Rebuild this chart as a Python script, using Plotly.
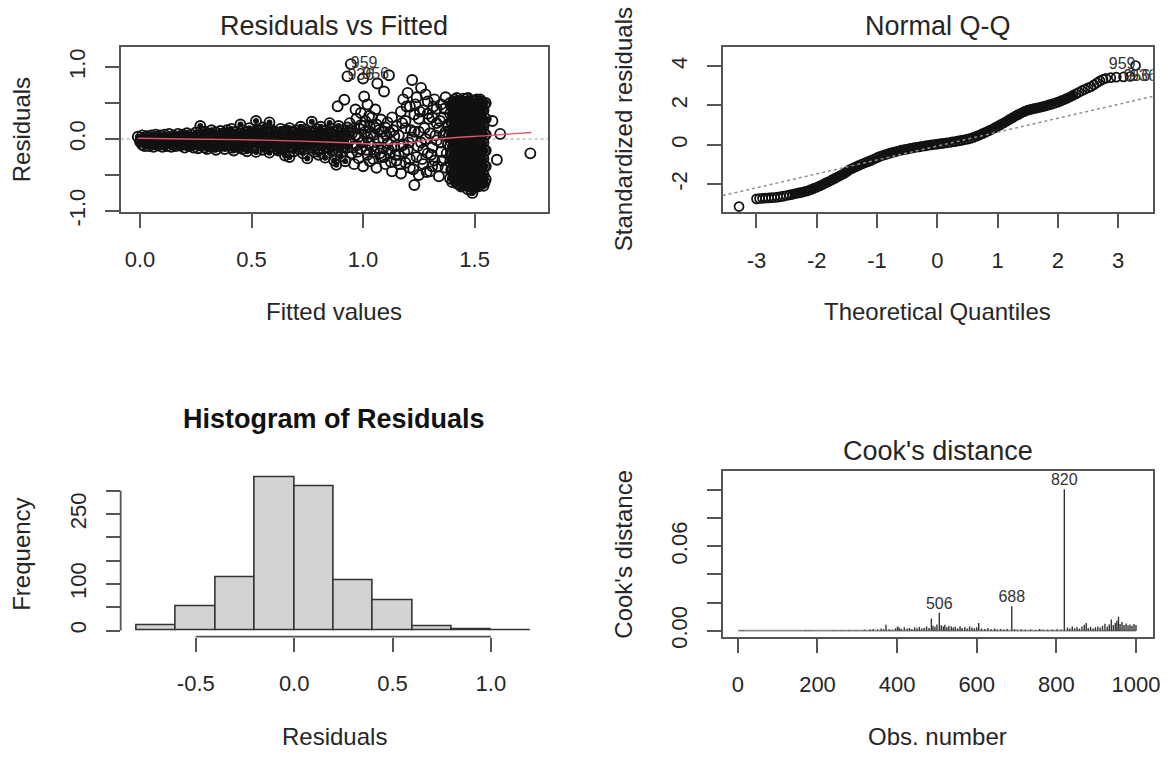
import plotly.graph_objects as go

FONT = "Liberation Sans, Arial, sans-serif"
INK = "#262626"
AXC = "#555555"
W, H = 1176, 768

# ================= Residuals vs Fitted =================
# low fitted band (0.00 - 0.25)
fit_a = [-0.01, 0.00, 0.01, 0.01, 0.02, 0.02, 0.03, 0.03, 0.04, 0.04,
         0.05, 0.05, 0.06, 0.06, 0.07, 0.07, 0.08, 0.08, 0.09, 0.09,
         0.10, 0.10, 0.11, 0.11, 0.12, 0.12, 0.13, 0.13, 0.14, 0.14,
         0.15, 0.15, 0.16, 0.16, 0.17, 0.17, 0.18, 0.18, 0.19, 0.19,
         0.20, 0.20, 0.21, 0.21, 0.22, 0.22, 0.23, 0.23, 0.24, 0.24,
         0.005, 0.015, 0.025, 0.035, 0.045, 0.055, 0.065, 0.075, 0.085, 0.095,
         0.105, 0.115, 0.125, 0.135, 0.145, 0.155, 0.165, 0.175, 0.185, 0.195,
         0.205, 0.215, 0.225, 0.235, 0.245]
res_a = [0.03, -0.04, -0.08, 0.05, 0.00, -0.10, 0.04, -0.06, -0.02, -0.10,
         0.05, -0.07, 0.01, -0.11, 0.06, -0.04, -0.09, 0.02, 0.05, -0.06,
         -0.01, -0.11, 0.06, -0.08, 0.02, -0.10, 0.07, -0.05, -0.02, -0.11,
         0.05, -0.08, 0.01, -0.10, 0.07, -0.04, -0.09, 0.03, 0.06, -0.07,
         -0.01, -0.12, 0.08, -0.05, 0.02, -0.10, 0.06, -0.07, -0.03, -0.12,
         -0.03, 0.01, -0.05, 0.02, -0.06, 0.00, -0.04, 0.03, -0.07, 0.01,
         -0.05, 0.02, -0.06, 0.00, -0.04, 0.03, -0.06, -0.01, 0.00, -0.03,
         0.04, -0.08, -0.02, 0.01, -0.06]
# 0.25 - 0.50
fit_b = [0.25, 0.25, 0.26, 0.26, 0.27, 0.27, 0.28, 0.28, 0.29, 0.29,
         0.30, 0.30, 0.31, 0.31, 0.32, 0.32, 0.33, 0.33, 0.34, 0.34,
         0.35, 0.35, 0.36, 0.36, 0.37, 0.37, 0.38, 0.38, 0.39, 0.39,
         0.40, 0.40, 0.41, 0.41, 0.42, 0.42, 0.43, 0.43, 0.44, 0.44,
         0.45, 0.45, 0.46, 0.46, 0.47, 0.47, 0.48, 0.48, 0.49, 0.49,
         0.255, 0.265, 0.275, 0.285, 0.295, 0.305, 0.315, 0.325, 0.335, 0.345,
         0.355, 0.365, 0.375, 0.385, 0.395, 0.405, 0.415, 0.425, 0.435, 0.445,
         0.455, 0.465, 0.475, 0.485, 0.495]
res_b = [0.09, -0.06, -0.13, 0.02, 0.18, -0.09, 0.06, -0.03, -0.12, 0.10,
         0.01, -0.14, 0.07, -0.07, -0.02, 0.12, -0.11, 0.04, 0.09, -0.15,
         -0.05, 0.02, 0.11, -0.10, -0.01, 0.07, -0.14, 0.03, 0.12, -0.07,
         -0.03, 0.08, -0.12, 0.14, 0.01, -0.16, 0.10, -0.06, -0.10, 0.04,
         0.20, -0.02, 0.12, -0.14, 0.06, -0.08, -0.17, 0.01, 0.15, -0.04,
         -0.01, 0.05, -0.04, 0.09, -0.07, 0.04, -0.10, 0.06, -0.03, 0.00,
         -0.09, 0.05, -0.06, 0.08, 0.02, -0.08, 0.05, -0.03, 0.01, -0.12,
         0.07, -0.04, 0.10, -0.10, 0.04]
# 0.50 - 0.75
fit_c = [0.50, 0.50, 0.51, 0.52, 0.52, 0.53, 0.53, 0.54, 0.55, 0.55,
         0.56, 0.57, 0.57, 0.58, 0.58, 0.59, 0.60, 0.60, 0.61, 0.61,
         0.62, 0.63, 0.63, 0.64, 0.64, 0.65, 0.65, 0.66, 0.66, 0.67,
         0.67, 0.68, 0.68, 0.69, 0.70, 0.70, 0.71, 0.71, 0.72, 0.72,
         0.73, 0.73, 0.74, 0.74, 0.75, 0.75,
         0.505, 0.515, 0.525, 0.535, 0.545, 0.555, 0.565, 0.575, 0.585, 0.595,
         0.605, 0.615, 0.625, 0.635, 0.645, 0.655, 0.665, 0.675, 0.685, 0.695,
         0.705, 0.715, 0.725, 0.735, 0.745]
res_c = [0.08, -0.12, -0.01, 0.25, -0.18, 0.11, -0.06, 0.03, -0.15, 0.16,
         -0.09, 0.07, -0.02, 0.23, -0.19, 0.12, -0.11, 0.02, 0.09, -0.05,
         -0.16, 0.14, -0.01, 0.06, -0.13, -0.23, 0.10, -0.07, 0.02, -0.25,
         0.15, -0.10, 0.05, -0.17, 0.12, -0.03, 0.08, -0.14, 0.00, 0.17,
         -0.20, 0.06, -0.08, 0.13, -0.27, 0.03,
         0.03, -0.08, 0.13, -0.03, -0.10, 0.06, 0.14, -0.12, 0.01, -0.05,
         0.10, -0.14, 0.05, -0.07, 0.02, 0.12, -0.12, 0.00, 0.09, -0.06,
         0.05, -0.02, -0.11, 0.10, -0.04]
# 0.75 - 0.94
fit_d = [0.76, 0.76, 0.77, 0.77, 0.78, 0.78, 0.79, 0.79, 0.80, 0.80,
         0.81, 0.81, 0.82, 0.82, 0.83, 0.83, 0.84, 0.84, 0.85, 0.85,
         0.86, 0.86, 0.87, 0.87, 0.88, 0.88, 0.89, 0.89, 0.90, 0.90,
         0.91, 0.91, 0.92, 0.92, 0.93, 0.93,
         0.755, 0.765, 0.775, 0.785, 0.795, 0.805, 0.815, 0.825, 0.835, 0.845,
         0.855, 0.865, 0.875, 0.885, 0.895, 0.905, 0.915, 0.925, 0.935]
res_d = [0.10, -0.12, 0.24, -0.05, 0.04, -0.18, 0.14, -0.09, -0.22, 0.07,
         0.00, 0.17, -0.14, 0.11, -0.04, -0.26, 0.08, -0.11, 0.22, -0.19,
         0.03, 0.14, -0.08, -0.30, 0.10, -0.36, -0.15, 0.18, 0.01, -0.24,
         0.12, -0.06, -0.31, 0.05, 0.16, -0.12,
         -0.02, 0.05, -0.10, 0.09, 0.00, -0.13, 0.06, -0.07, 0.12, 0.02,
         -0.08, -0.15, 0.05, -0.03, 0.08, -0.12, 0.02, -0.06, 0.09]
# 0.94 - 1.15
fit_e = [0.94, 0.94, 0.95, 0.95, 0.96, 0.96, 0.97, 0.97, 0.98, 0.98,
         0.99, 0.99, 1.00, 1.00, 1.01, 1.01, 1.02, 1.02, 1.03, 1.03,
         1.04, 1.04, 1.05, 1.05, 1.06, 1.06, 1.07, 1.07, 1.08, 1.08,
         1.09, 1.09, 1.10, 1.10, 1.11, 1.11, 1.12, 1.12, 1.13, 1.13,
         1.14, 1.14, 1.15, 1.15,
         0.945, 0.955, 0.965, 0.975, 0.985, 0.995, 1.005, 1.015, 1.025, 1.035,
         1.045, 1.055, 1.065, 1.075, 1.085, 1.095, 1.105, 1.115, 1.125, 1.135,
         1.145]
res_e = [-0.02, 0.22, -0.20, 0.08, -0.35, 0.15, -0.09, 0.28, 0.03, -0.27,
         0.19, -0.14, -0.04, -0.38, 0.10, 0.25, -0.22, 0.02, 0.17, -0.31,
         -0.10, 0.30, 0.06, -0.18, -0.40, 0.20, -0.03, 0.12, -0.25, 0.27,
         0.01, -0.13, 0.16, -0.35, -0.06, 0.23, -0.20, 0.09, -0.45, 0.30,
         -0.11, 0.04, 0.18, -0.30,
         0.12, -0.12, 0.05, -0.18, 0.14, -0.05, 0.18, -0.15, -0.06, 0.08,
         -0.28, 0.15, -0.12, -0.20, 0.10, -0.25, 0.05, -0.15, -0.32, 0.12,
         -0.22]
# isolated high points above the cloud around 0.9 - 1.12
fit_out = [0.886, 0.916, 0.945, 1.116, 0.93, 1.00, 1.064, 1.094, 1.005, 0.966,
           1.055, 1.027, 0.99, 1.02]
res_out = [0.455, 0.545, 1.04, 0.886, 0.87, 0.84, 0.77, 0.66, 0.59, 0.41,
           0.41, 0.32, 0.36, 0.48]
# 1.15 - 1.39 (wide spread)
fit_f = [1.16, 1.16, 1.17, 1.17, 1.18, 1.18, 1.19, 1.19, 1.20, 1.20,
         1.21, 1.21, 1.22, 1.22, 1.23, 1.23, 1.24, 1.24, 1.25, 1.25,
         1.26, 1.26, 1.27, 1.27, 1.28, 1.28, 1.29, 1.29, 1.30, 1.30,
         1.31, 1.31, 1.32, 1.32, 1.33, 1.33, 1.34, 1.34, 1.35, 1.35,
         1.36, 1.36, 1.37, 1.37, 1.38, 1.38,
         1.17, 1.19, 1.21, 1.23, 1.25, 1.27, 1.29, 1.31, 1.33, 1.35, 1.37,
         1.165, 1.175, 1.185, 1.195, 1.205, 1.215, 1.225, 1.235, 1.245, 1.255,
         1.265, 1.275, 1.285, 1.295, 1.305, 1.315, 1.325, 1.335, 1.345, 1.355,
         1.365, 1.375, 1.385]
res_f = [0.05, -0.22, 0.38, -0.48, 0.55, -0.08, 0.15, -0.33, 0.64, -0.15,
         0.45, -0.40, 0.82, 0.02, -0.64, 0.34, -0.25, 0.58, 0.10, -0.50,
         0.71, -0.05, 0.40, -0.35, 0.62, 0.00, -0.20, 0.52, 0.08, -0.45,
         0.30, -0.12, 0.55, -0.30, -0.02, 0.42, 0.15, -0.52, 0.48, -0.18,
         0.05, 0.30, -0.40, 0.58, -0.08, 0.20,
         -0.10, 0.25, -0.28, 0.10, 0.28, -0.15, 0.35, -0.38, 0.22, -0.05, 0.10,
         -0.35, 0.22, -0.18, 0.45, -0.05, 0.12, -0.42, 0.48, -0.10, 0.38,
         -0.28, 0.15, -0.46, 0.28, -0.22, 0.45, 0.05, -0.38, 0.25, -0.30,
         0.42, -0.20, 0.05]
# dense block 1.39 - 1.55
fit_g = [1.39] * 6 + [1.40] * 6 + [1.41] * 6 + [1.42] * 7 + [1.43] * 6 + [1.44] * 6 + [1.45] * 6 + [1.46] * 6 \
      + [1.47] * 7 + [1.48] * 6 + [1.49] * 7 + [1.50] * 6 + [1.51] * 6 + [1.52] * 6 + [1.53] * 6 + [1.54] * 6 \
      + [1.55] * 6 \
      + [1.395] * 5 + [1.405] * 6 + [1.415] * 6 + [1.425] * 6 + [1.435] * 6 + [1.445] * 6 + [1.455] * 6 \
      + [1.465] * 6 + [1.475] * 6 + [1.485] * 6 + [1.495] * 6 + [1.505] * 6 + [1.515] * 6 + [1.525] * 6 \
      + [1.535] * 6 + [1.545] * 6
res_g = [0.35, 0.12, -0.10, -0.32, -0.55, 0.50,
         0.45, 0.22, 0.02, -0.20, -0.42, -0.60,
         0.55, 0.30, 0.08, -0.14, -0.36, -0.50,
         0.40, 0.18, -0.04, -0.26, -0.48, -0.62, 0.57,
         0.52, 0.28, 0.06, -0.16, -0.38, -0.58,
         0.44, 0.20, -0.02, -0.24, -0.46, -0.66,
         0.56, 0.34, 0.12, -0.10, -0.32, -0.54,
         0.48, 0.25, 0.03, -0.19, -0.41, -0.63,
         0.57, 0.38, 0.16, -0.06, -0.28, -0.50, -0.70,
         0.46, 0.22, 0.00, -0.22, -0.44, -0.62,
         0.53, 0.31, 0.09, -0.13, -0.35, -0.57, -0.75,
         0.42, 0.19, -0.03, -0.25, -0.47, -0.66,
         0.55, 0.33, 0.11, -0.11, -0.33, -0.55,
         0.47, 0.24, 0.02, -0.20, -0.42, -0.64,
         0.52, 0.30, 0.08, -0.14, -0.36, -0.58,
         0.40, 0.17, -0.05, -0.27, -0.49, -0.65,
         0.50, 0.28, 0.06, -0.16, -0.38, -0.56,
         0.24, 0.01, -0.21, -0.43, 0.46,
         0.34, 0.12, -0.09, -0.31, -0.52, 0.52,
         0.42, 0.19, -0.03, -0.25, -0.46, -0.58,
         0.29, 0.07, -0.15, -0.37, -0.55, 0.50,
         0.40, 0.17, -0.05, -0.27, -0.49, -0.64,
         0.31, 0.09, -0.13, -0.35, -0.57, 0.52,
         0.45, 0.23, 0.01, -0.21, -0.43, -0.64,
         0.36, 0.14, -0.08, -0.30, -0.52, 0.56,
         0.49, 0.27, 0.05, -0.17, -0.39, -0.61,
         0.35, 0.11, -0.11, -0.33, -0.53, -0.71,
         0.44, 0.20, -0.02, -0.24, -0.46, -0.68,
         0.30, 0.08, -0.14, -0.36, -0.58, 0.53,
         0.44, 0.22, 0.00, -0.22, -0.44, -0.66,
         0.36, 0.13, -0.09, -0.31, -0.53, 0.55,
         0.41, 0.19, -0.03, -0.25, -0.47, -0.62,
         0.29, 0.06, -0.16, -0.38, -0.60, 0.48]
# beyond the block
fit_h = [1.58, 1.60, 1.615, 1.75]
res_h = [0.25, -0.29, 0.07, -0.20]

lowess_fitted = [-0.01, 0.20, 0.45, 0.72, 0.90, 1.05, 1.14, 1.22, 1.30, 1.42, 1.556, 1.66, 1.755]
lowess_resid = [0.01, 0.00, -0.01, -0.03, -0.05, -0.07, -0.07, -0.05, -0.01, 0.02, 0.046, 0.07, 0.09]
rf_id_fitted = [0.945, 1.116, 0.93]
rf_id_resid = [1.04, 0.886, 0.87]
rf_id_names = ["959", "956", "936"]
rf_id_pos = ["middle right", "middle left", "middle right"]

# ================= Normal Q-Q =================
qq_theoretical = [
    -3.29, -3.00, -2.95, -2.90, -2.85, -2.80, -2.75, -2.70, -2.65, -2.60,
    -2.55, -2.50, -2.45, -2.40, -2.35, -2.30, -2.25, -2.20, -2.15, -2.10,
    -2.05, -2.00, -1.95, -1.90, -1.85, -1.80, -1.75, -1.70, -1.65, -1.60,
    -1.55, -1.50, -1.45, -1.40, -1.35, -1.30, -1.25, -1.20, -1.15, -1.10,
    -1.05, -1.00, -0.95, -0.90, -0.85, -0.80, -0.75, -0.70, -0.65, -0.60,
    -0.55, -0.50, -0.45, -0.40, -0.35, -0.30, -0.25, -0.20, -0.15, -0.10,
    -0.05, 0.00, 0.05, 0.10, 0.15, 0.20, 0.25, 0.30, 0.35, 0.40,
    0.45, 0.50, 0.55, 0.60, 0.65, 0.70, 0.75, 0.80, 0.85, 0.90,
    0.95, 1.00, 1.05, 1.10, 1.15, 1.20, 1.25, 1.30, 1.35, 1.40,
    1.45, 1.50, 1.55, 1.60, 1.65, 1.70, 1.75, 1.80, 1.85, 1.90,
    1.95, 2.00, 2.05, 2.10, 2.15, 2.20, 2.25, 2.30, 2.35, 2.40,
    2.45, 2.50, 2.55, 2.60, 2.65, 2.70, 2.75, 2.80, 2.88, 2.97,
    3.09, 3.20, 3.29,
]
qq_standardized = [
    -3.13, -2.74, -2.72, -2.71, -2.70, -2.69, -2.68, -2.67, -2.65, -2.63,
    -2.60, -2.57, -2.54, -2.51, -2.47, -2.44, -2.41, -2.37, -2.33, -2.27,
    -2.21, -2.15, -2.08, -2.01, -1.93, -1.86, -1.78, -1.70, -1.62, -1.54,
    -1.46, -1.36, -1.25, -1.18, -1.11, -1.04, -0.97, -0.91, -0.85, -0.79,
    -0.72, -0.65, -0.58, -0.53, -0.48, -0.43, -0.39, -0.35, -0.31, -0.27,
    -0.24, -0.21, -0.18, -0.15, -0.12, -0.10, -0.07, -0.05, -0.02, 0.00,
    0.02, 0.04, 0.06, 0.08, 0.10, 0.12, 0.15, 0.17, 0.20, 0.23,
    0.26, 0.29, 0.33, 0.38, 0.44, 0.50, 0.57, 0.64, 0.71, 0.78,
    0.86, 0.94, 1.03, 1.11, 1.20, 1.29, 1.38, 1.47, 1.55, 1.63,
    1.70, 1.76, 1.80, 1.84, 1.87, 1.90, 1.94, 1.98, 2.03, 2.07,
    2.12, 2.17, 2.23, 2.29, 2.36, 2.43, 2.51, 2.59, 2.67, 2.75,
    2.82, 2.89, 2.95, 3.05, 3.15, 3.25, 3.33, 3.38, 3.41, 3.44,
    3.45, 3.47, 4.03,
]
qqline_intercept = -0.06
qqline_slope = 0.705
qq_id_theoretical = [3.29, 3.09, 3.20]
qq_id_values = [4.03, 3.45, 3.47]
qq_id_names = ["959", "956", "936"]
qq_id_pos = ["middle left", "middle right", "middle right"]

# ================= Histogram of Residuals =================
hist_breaks = [-0.8, -0.6, -0.4, -0.2, 0.0, 0.2, 0.4, 0.6, 0.8, 1.0, 1.2]
hist_counts = [12, 51, 115, 330, 310, 107, 64, 8, 3, 0]

# ================= Cook's distance =================
n_obs = 1000
cook_obs = [
    8, 15, 170, 182, 240, 262, 280, 296, 318, 332,
    340, 351, 360, 366, 372, 380, 388, 396, 401, 405,
    410, 418, 425, 431, 437, 444, 450, 456, 462, 468,
    474, 480, 486, 490, 495, 500, 506, 511, 516, 520,
    525, 530, 536, 541, 546, 552, 558, 563, 570, 576,
    582, 588, 594, 600, 605, 612, 620, 628, 636, 645,
    652, 660, 668, 676, 688, 695, 702, 712, 722, 735,
    748, 758, 766, 778, 790, 802, 812, 820, 828, 834,
    840, 846, 852, 858, 864, 870, 875, 880, 886, 892,
    898, 904, 910, 916, 922, 928, 933, 938, 943, 948,
    952, 956, 960, 965, 970, 975, 980, 985, 990, 995,
    1000,
]
cook_values = [
    0.0004, 0.0003, 0.0003, 0.0004, 0.0003, 0.0004, 0.0005, 0.0004, 0.0006, 0.0008,
    0.0012, 0.0009, 0.0015, 0.0011, 0.0042, 0.0010, 0.0007, 0.0018, 0.0030, 0.0022,
    0.0014, 0.0025, 0.0016, 0.0020, 0.0012, 0.0024, 0.0018, 0.0027, 0.0015, 0.0021,
    0.0030, 0.0019, 0.0086, 0.0035, 0.0028, 0.0045, 0.0128, 0.0038, 0.0030, 0.0042,
    0.0025, 0.0035, 0.0030, 0.0022, 0.0028, 0.0018, 0.0032, 0.0020, 0.0026, 0.0016,
    0.0030, 0.0022, 0.0018, 0.0025, 0.0055, 0.0015, 0.0012, 0.0020, 0.0010, 0.0016,
    0.0009, 0.0013, 0.0008, 0.0012, 0.0174, 0.0010, 0.0007, 0.0011, 0.0006, 0.0009,
    0.0005, 0.0012, 0.0007, 0.0006, 0.0008, 0.0010, 0.0007, 0.1005, 0.0022, 0.0015,
    0.0030, 0.0018, 0.0025, 0.0014, 0.0030, 0.0042, 0.0055, 0.0020, 0.0028, 0.0016,
    0.0024, 0.0030, 0.0022, 0.0036, 0.0050, 0.0030, 0.0045, 0.0080, 0.0040, 0.0055,
    0.0070, 0.0100, 0.0048, 0.0062, 0.0040, 0.0052, 0.0038, 0.0045, 0.0035, 0.0048,
    0.0040,
]
cook_id = [506, 688, 820]

# ================= layout helpers =================
def dx(l, r):
    return [l / W, r / W]

def dy(t, b):
    return [1 - b / H, 1 - t / H]

TICKFONT = dict(family=FONT, size=22, color=INK)

def axis(domain, rng, vals, text, anchor, boxed=True, vertical=False):
    d = dict(domain=domain, range=rng, tickvals=vals, ticktext=text, anchor=anchor,
             showgrid=False, zeroline=False, ticks="outside", ticklen=14, tickwidth=1.5,
             tickcolor=AXC, showline=boxed, mirror=boxed, linecolor=AXC, linewidth=1.8,
             tickfont=TICKFONT, fixedrange=True)
    if vertical:
        d["tickangle"] = -90
        d["ticklabelstandoff"] = 11
    else:
        d["ticklabelstandoff"] = 13
    return d

P1 = (121.5, 551.7, 48.0, 216.0)
P2 = (727.7, 1160.6, 47.7, 216.7)
P3 = (121.5, 551.7, 480.7, 649.3)
P4 = (727.7, 1160.6, 480.7, 649.3)

fig = go.Figure()

fitted_values = fit_a + fit_b + fit_c + fit_d + fit_e + fit_out + fit_f + fit_g + fit_h
residual_values = res_a + res_b + res_c + res_d + res_e + res_out + res_f + res_g + res_h
# where the points pile up so much that the cloud reads as solid black
solid_fitted = fit_a + fit_b + fit_c + fit_d + fit_g
solid_resid = res_a + res_b + res_c + res_d + res_g

INKPT = "#111111"

# Panel 1
fig.add_trace(go.Scatter(x=solid_fitted, y=solid_resid, mode="markers",
                         marker=dict(symbol="circle", size=6, color=INKPT, line=dict(width=0)),
                         xaxis="x", yaxis="y", hoverinfo="skip"))
fig.add_trace(go.Scatter(x=fitted_values, y=residual_values, mode="markers",
                         marker=dict(symbol="circle-open", size=10, color=INKPT, line=dict(width=1.9, color=INKPT)),
                         xaxis="x", yaxis="y", hoverinfo="skip"))
fig.add_trace(go.Scatter(x=lowess_fitted, y=lowess_resid, mode="lines",
                         line=dict(color="#DF536B", width=1.4, shape="spline"),
                         xaxis="x", yaxis="y", hoverinfo="skip"))
fig.add_trace(go.Scatter(x=rf_id_fitted, y=rf_id_resid, mode="text", text=rf_id_names,
                         textposition=rf_id_pos, textfont=dict(family=FONT, size=16, color="#333"),
                         xaxis="x", yaxis="y", hoverinfo="skip"))

# Panel 2: rings everywhere; the thick middle where they merge into a solid band
fig.add_trace(go.Scatter(x=qq_theoretical, y=qq_standardized, mode="markers",
                         marker=dict(symbol="circle-open", size=9, color=INKPT,
                                     line=dict(width=1.7, color=INKPT)),
                         xaxis="x2", yaxis="y2", hoverinfo="skip"))
dense = [i for i, q in enumerate(qq_theoretical) if -2.45 <= q <= 2.3]
fig.add_trace(go.Scatter(x=[qq_theoretical[i] for i in dense], y=[qq_standardized[i] for i in dense],
                         mode="lines", line=dict(color=INKPT, width=7),
                         xaxis="x2", yaxis="y2", hoverinfo="skip"))
qq_xr = [-3.56, 3.575]
fig.add_trace(go.Scatter(x=qq_xr, y=[qqline_intercept + qqline_slope * v for v in qq_xr], mode="lines",
                         line=dict(color="#8f8f8f", width=1.5, dash="dot"),
                         xaxis="x2", yaxis="y2", hoverinfo="skip"))
fig.add_trace(go.Scatter(x=qq_id_theoretical, y=qq_id_values, mode="text", text=qq_id_names,
                         textposition=qq_id_pos, textfont=dict(family=FONT, size=16, color="#333"),
                         xaxis="x2", yaxis="y2", hoverinfo="skip", cliponaxis=True))

# Panel 3
centers = [(hist_breaks[i] + hist_breaks[i + 1]) / 2 for i in range(len(hist_counts))]
widths = [hist_breaks[i + 1] - hist_breaks[i] for i in range(len(hist_counts))]
fig.add_trace(go.Bar(x=centers, y=hist_counts, width=widths,
                     marker=dict(color="#D3D3D3", line=dict(color="#333333", width=1.6)),
                     xaxis="x3", yaxis="y3", hoverinfo="skip"))

# Panel 4
cx, cy = [], []
for o, v in zip(cook_obs, cook_values):
    cx += [o, o, None]
    cy += [0, v, None]
fig.add_trace(go.Scatter(x=[1, n_obs], y=[0, 0], mode="lines",
                         line=dict(color="#8a8a8a", width=1.8), xaxis="x4", yaxis="y4", hoverinfo="skip"))
fig.add_trace(go.Scatter(x=cx, y=cy, mode="lines", line=dict(color="#333333", width=1.4),
                         xaxis="x4", yaxis="y4", hoverinfo="skip"))
cook_lookup = dict(zip(cook_obs, cook_values))
fig.add_trace(go.Scatter(x=cook_id, y=[cook_lookup[i] for i in cook_id], mode="text",
                         text=[str(i) for i in cook_id], textposition="top center",
                         textfont=dict(family=FONT, size=16, color="#333"),
                         xaxis="x4", yaxis="y4", hoverinfo="skip"))

shapes = [
    dict(type="line", xref="x domain", yref="y", x0=0, x1=1, y0=0, y1=0,
         line=dict(color="#bdbdbd", width=1.5, dash="dot"), layer="below"),
    dict(type="line", xref="x3", yref="y3 domain", x0=-0.5, x1=1.0, y0=0, y1=0,
         line=dict(color=AXC, width=1.8)),
    dict(type="line", xref="x3 domain", yref="y3", x0=0, x1=0, y0=0, y1=300,
         line=dict(color=AXC, width=1.8)),
]

def ann(text, x, y, size, angle=0, bold=False, color=INK):
    return dict(text=f"<b>{text}</b>" if bold else text, x=x / W, y=1 - y / H, xref="paper", yref="paper",
                showarrow=False, textangle=angle, xanchor="center", yanchor="middle",
                font=dict(family=FONT, size=size, color=color))

annotations = [
    ann("Residuals vs Fitted", 336.6, 27, 27),
    ann("Fitted values", 336.6, 318, 24),
    ann("Residuals", 22, 132, 24, angle=-90),
    ann("Normal Q-Q", 944, 27, 27),
    ann("Theoretical Quantiles", 944, 318, 24),
    ann("Standardized residuals", 628, 132, 24, angle=-90),
    ann("Histogram of Residuals", 336.6, 427, 27, bold=True, color="#111"),
    ann("Residuals", 336.6, 751, 24),
    ann("Frequency", 22, 565, 24, angle=-90),
    ann("Cook's distance", 944, 460, 27),
    ann("Obs. number", 944, 751, 24),
    ann("Cook's distance", 628, 565, 24, angle=-90),
]

fig.update_layout(
    width=W, height=H, margin=dict(l=0, r=0, t=0, b=0),
    paper_bgcolor="white", plot_bgcolor="white", showlegend=False,
    font=dict(family=FONT, color=INK),
    bargap=0,
    xaxis=axis(dx(P1[0], P1[1]), [-0.087, 1.829], [0, 0.5, 1.0, 1.5], ["0.0", "0.5", "1.0", "1.5"], "y"),
    yaxis=axis(dy(P1[2], P1[3]), [-1.012, 1.277], [-1, -0.5, 0, 0.5, 1], ["-1.0", "", "0.0", "", "1.0"], "x", vertical=True),
    xaxis2=axis(dx(P2[0], P2[1]), qq_xr, [-3, -2, -1, 0, 1, 2, 3], ["-3", "-2", "-1", "0", "1", "2", "3"], "y2"),
    yaxis2=axis(dy(P2[2], P2[3]), [-3.43, 4.98], [-2, 0, 2, 4], ["-2", "0", "2", "4"], "x2", vertical=True),
    xaxis3=axis(dx(P3[0], P3[1]), [-0.882, 1.29], [-0.5, 0.0, 0.5, 1.0], ["-0.5", "0.0", "0.5", "1.0"], "y3", boxed=False),
    yaxis3=axis(dy(P3[2], P3[3]), [-13.1, 342], [0, 50, 100, 150, 200, 250, 300], ["0", "", "100", "", "", "250", ""], "x3", boxed=False, vertical=True),
    xaxis4=axis(dx(P4[0], P4[1]), [-38, 1042], [0, 200, 400, 600, 800, 1000], ["0", "200", "400", "600", "800", "1000"], "y4"),
    yaxis4=axis(dy(P4[2], P4[3]), [-0.0042, 0.1133], [0, 0.02, 0.04, 0.06, 0.08, 0.10], ["0.00", "", "", "0.06", "", ""], "x4", vertical=True),
    shapes=shapes,
    annotations=annotations,
)

fig.write_html("out.html")
